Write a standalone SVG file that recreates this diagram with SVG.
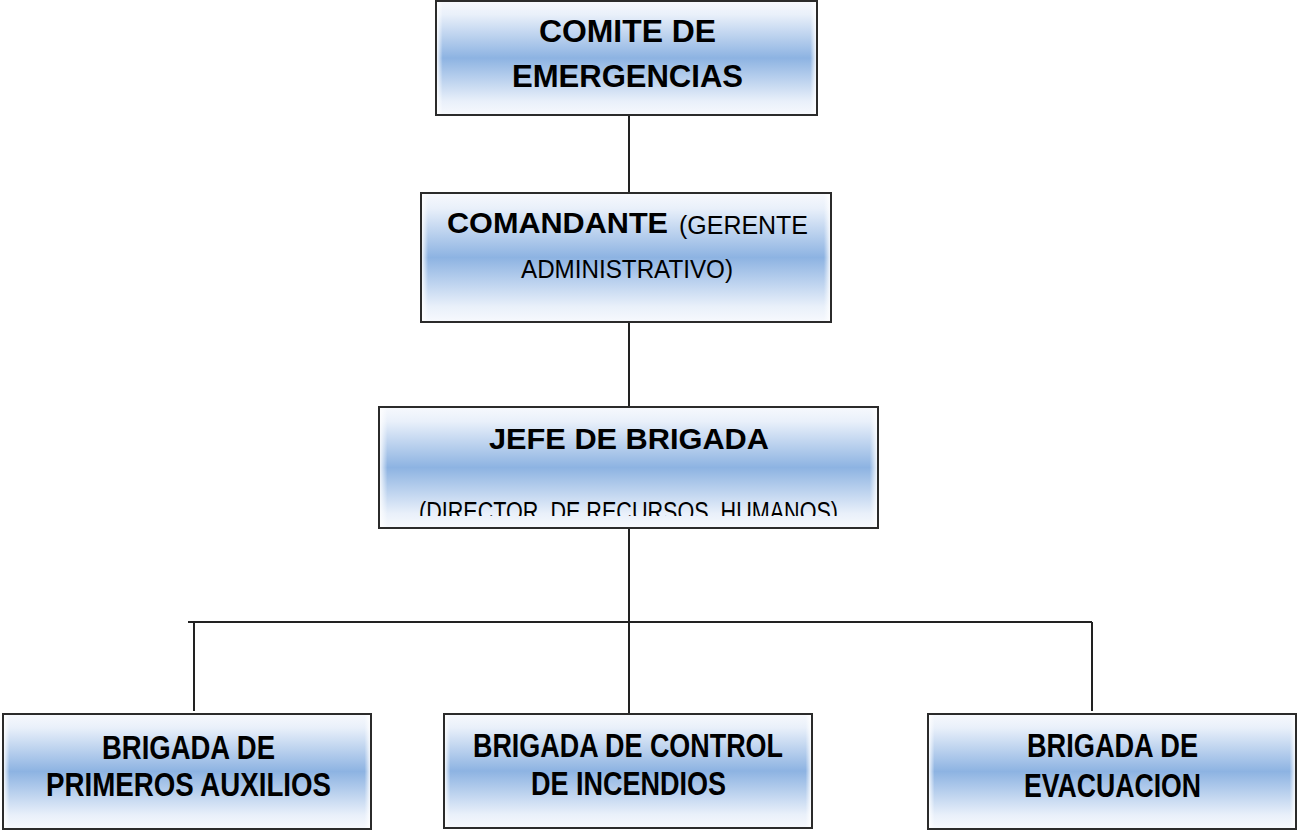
<svg xmlns="http://www.w3.org/2000/svg" width="1299" height="835" viewBox="0 0 1299 835">
<defs>
<linearGradient id="gv" x1="0" y1="0" x2="0" y2="1">
<stop offset="0" stop-color="#f7f9fd"/>
<stop offset="0.12" stop-color="#e9f0fa"/>
<stop offset="0.5" stop-color="#8db3e2"/>
<stop offset="0.88" stop-color="#e9f0fa"/>
<stop offset="1" stop-color="#f7f9fd"/>
</linearGradient>
<linearGradient id="gh" x1="0" y1="0" x2="1" y2="0">
<stop offset="0" stop-color="#ffffff" stop-opacity="0.85"/>
<stop offset="0.015" stop-color="#ffffff" stop-opacity="0"/>
<stop offset="0.985" stop-color="#ffffff" stop-opacity="0"/>
<stop offset="1" stop-color="#ffffff" stop-opacity="0.85"/>
</linearGradient>
<clipPath id="clipJefe"><rect x="379" y="407" width="499" height="109"/></clipPath>
<style>
.box{fill:url(#gv);stroke:#2b2b2b;stroke-width:2}
.edge{fill:url(#gh);stroke:none}
.t{font-family:"Liberation Sans",Arial,sans-serif;fill:#000;text-anchor:start}
.b{font-weight:bold}
.line{stroke:#222;stroke-width:2;fill:none}
</style>
</defs>
<rect width="1299" height="835" fill="#ffffff"/>
<g id="connectors">
<line class="line" x1="629" y1="115" x2="629" y2="193"/>
<line class="line" x1="629" y1="322" x2="629" y2="407"/>
<line class="line" x1="629" y1="528" x2="629" y2="714"/>
<line class="line" x1="188" y1="622" x2="1092" y2="622"/>
<line class="line" x1="194" y1="622" x2="194" y2="711"/>
<line class="line" x1="1092" y1="622" x2="1092" y2="711"/>
</g>
<g id="node-comite">
<rect class="box" x="436" y="1" width="381" height="114"/>
<rect class="edge" x="437" y="2" width="379" height="112"/>
<text class="t b" x="539" y="42" font-size="32" textLength="177" lengthAdjust="spacingAndGlyphs">COMITE DE</text>
<text class="t b" x="512" y="87" font-size="31" textLength="231" lengthAdjust="spacingAndGlyphs">EMERGENCIAS</text>
</g>
<g id="node-comandante">
<rect class="box" x="421" y="193" width="410" height="129"/>
<rect class="edge" x="422" y="194" width="408" height="127"/>
<text class="t b" x="447" y="233" font-size="30" textLength="221" lengthAdjust="spacingAndGlyphs">COMANDANTE</text>
<text class="t" x="679" y="234" font-size="26" textLength="129" lengthAdjust="spacingAndGlyphs">(GERENTE</text>
<text class="t" x="521" y="278" font-size="26" textLength="212" lengthAdjust="spacingAndGlyphs">ADMINISTRATIVO)</text>
</g>
<g id="node-jefe">
<rect class="box" x="379" y="407" width="499" height="121"/>
<rect class="edge" x="380" y="408" width="497" height="119"/>
<text class="t b" x="489" y="449" font-size="30" textLength="280" lengthAdjust="spacingAndGlyphs">JEFE DE BRIGADA</text>
<text class="t" x="419" y="521" font-size="27" textLength="419" lengthAdjust="spacingAndGlyphs" clip-path="url(#clipJefe)" xml:space="preserve">(DIRECTOR  DE RECURSOS  HUMANOS)</text>
</g>
<g id="node-primeros-auxilios">
<rect class="box" x="3" y="714" width="368" height="115"/>
<rect class="edge" x="4" y="715" width="366" height="113"/>
<text class="t b" x="102" y="759" font-size="33" textLength="173" lengthAdjust="spacingAndGlyphs">BRIGADA DE</text>
<text class="t b" x="46" y="796" font-size="33" textLength="285" lengthAdjust="spacingAndGlyphs">PRIMEROS AUXILIOS</text>
</g>
<g id="node-control-incendios">
<rect class="box" x="444" y="714" width="368" height="114"/>
<rect class="edge" x="445" y="715" width="366" height="112"/>
<text class="t b" x="473" y="757" font-size="33" textLength="310" lengthAdjust="spacingAndGlyphs">BRIGADA DE CONTROL</text>
<text class="t b" x="531" y="795" font-size="33" textLength="195" lengthAdjust="spacingAndGlyphs">DE INCENDIOS</text>
</g>
<g id="node-evacuacion">
<rect class="box" x="928" y="714" width="368" height="115"/>
<rect class="edge" x="929" y="715" width="366" height="113"/>
<text class="t b" x="1027" y="757" font-size="33" textLength="171" lengthAdjust="spacingAndGlyphs">BRIGADA DE</text>
<text class="t b" x="1024" y="797" font-size="33" textLength="177" lengthAdjust="spacingAndGlyphs">EVACUACION</text>
</g>
</svg>
